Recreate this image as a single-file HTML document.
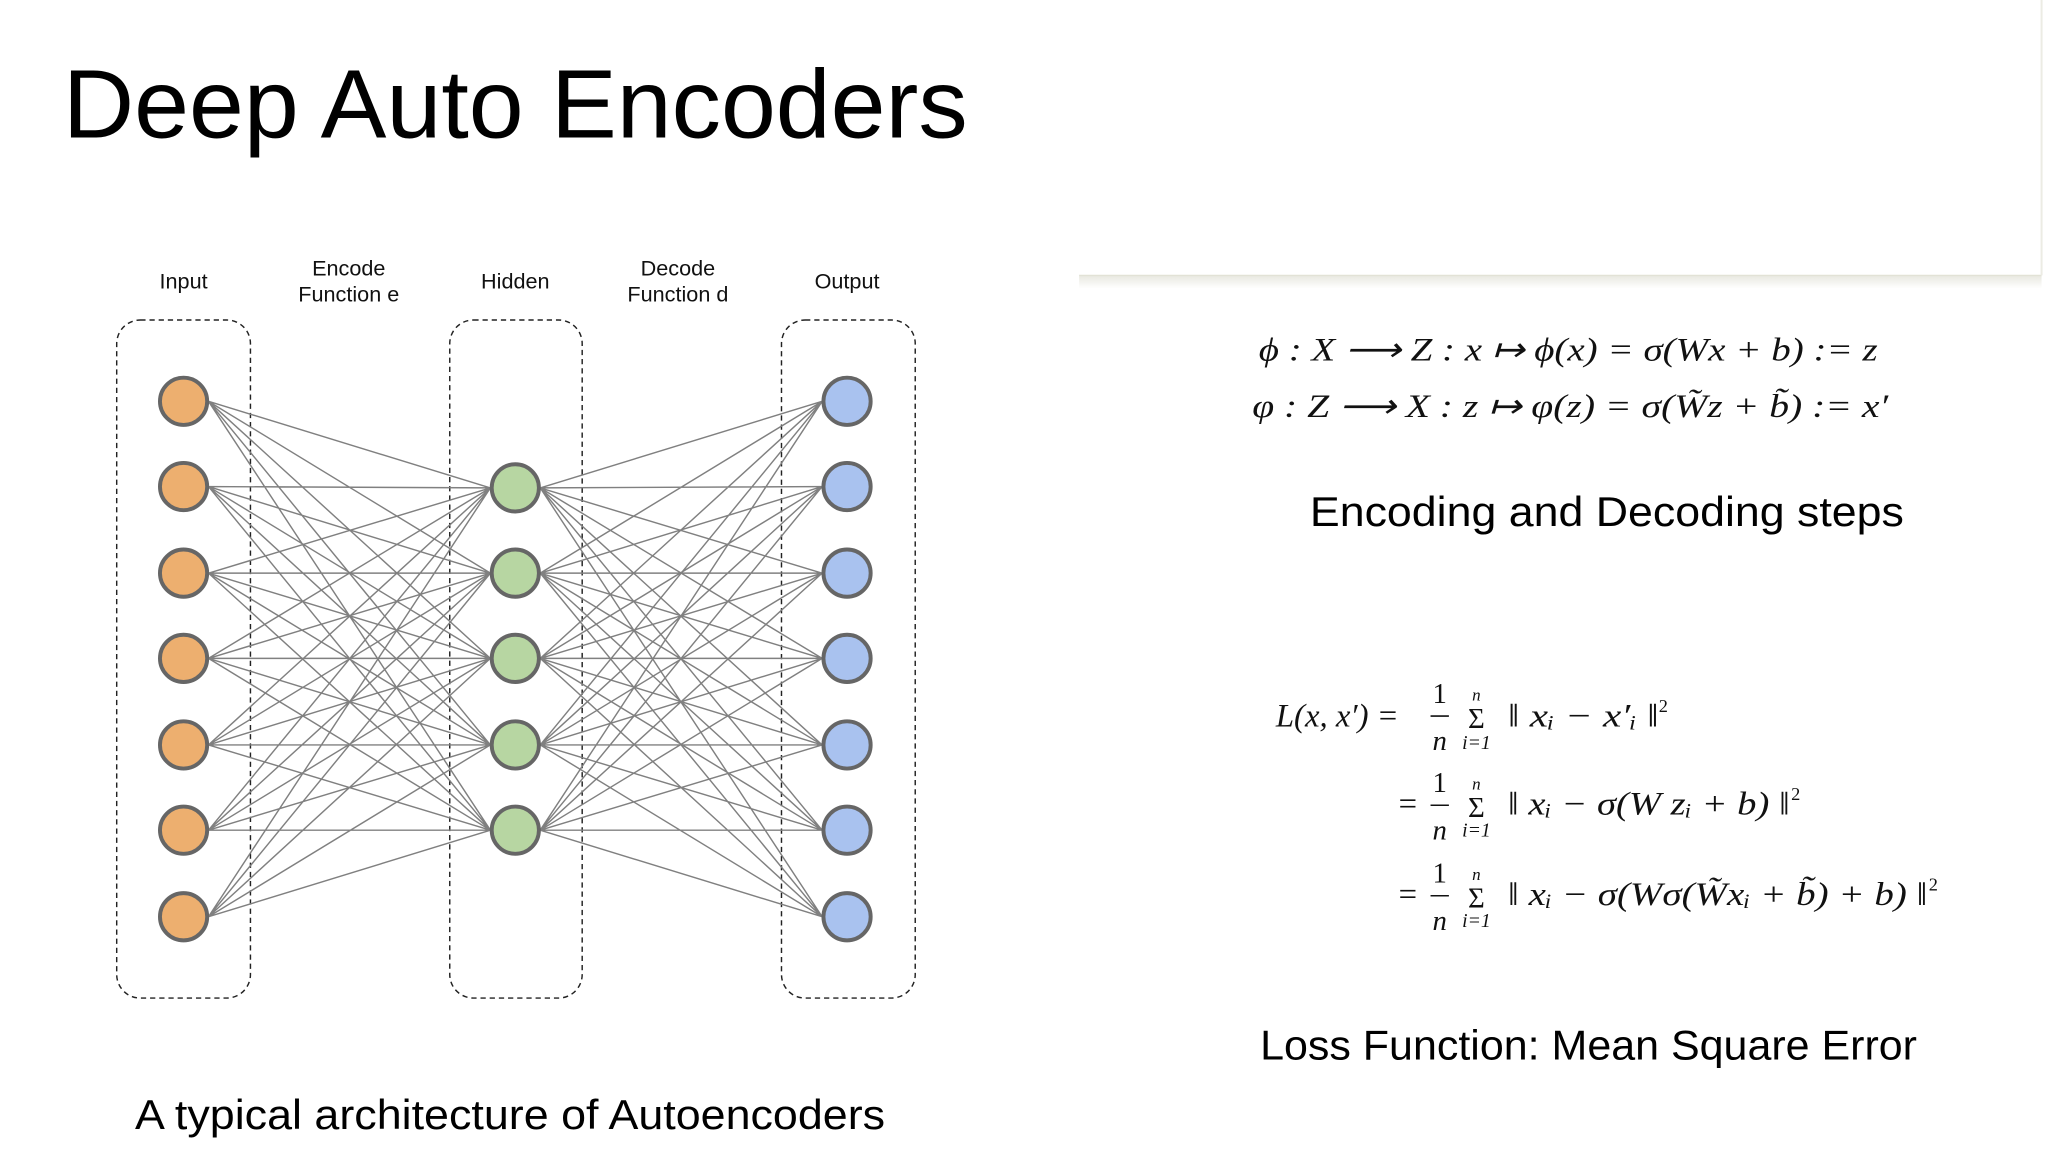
<!DOCTYPE html>
<html><head><meta charset="utf-8"><style>
html,body{margin:0;padding:0;background:#fff;}
svg{display:block;}
.t{font-family:"Liberation Sans",sans-serif;fill:#000;}
.m{font-family:"Liberation Serif",serif;font-style:italic;fill:#111;}
.r{font-style:normal;}
</style></head><body>
<svg width="2056" height="1162" viewBox="0 0 1568 886" preserveAspectRatio="none" xmlns="http://www.w3.org/2000/svg">
<defs><linearGradient id="sh" x1="0" y1="0" x2="0" y2="1"><stop offset="0" stop-color="#e8e8e0"/><stop offset="1" stop-color="#fff"/></linearGradient></defs>
<rect x="823" y="210" width="734" height="10" fill="url(#sh)"/>
<line x1="823" y1="210" x2="1557" y2="210" stroke="#e2e2d6" stroke-width="1"/>
<line x1="1557" y1="0" x2="1557" y2="210" stroke="#ececE4" stroke-width="1.5"/>
<text class="t" x="48" y="105" font-size="74" textLength="690" lengthAdjust="spacingAndGlyphs">Deep Auto Encoders</text>
<g font-family="Liberation Sans,sans-serif" font-size="16.5" text-anchor="middle" fill="#111">
<text x="140" y="220">Input</text>
<text x="266" y="210">Encode</text><text x="266" y="230">Function e</text>
<text x="393" y="220">Hidden</text>
<text x="517" y="210">Decode</text><text x="517" y="230">Function d</text>
<text x="646" y="220">Output</text>
</g>
<g fill="none" stroke="#222" stroke-width="1.1" stroke-dasharray="4,3">
<rect x="89" y="244" width="102" height="517" rx="18"/>
<rect x="343" y="244" width="101" height="517" rx="18"/>
<rect x="596" y="244" width="102" height="517" rx="18"/>
</g>
<g id="edges" stroke="#808080" stroke-width="1.1">
<path d="M159,306L374,372M159,306L374,437M159,306L374,502M159,306L374,568M159,306L374,633
M159,371L374,372M159,371L374,437M159,371L374,502M159,371L374,568M159,371L374,633
M159,437L374,372M159,437L374,437M159,437L374,502M159,437L374,568M159,437L374,633
M159,502L374,372M159,502L374,437M159,502L374,502M159,502L374,568M159,502L374,633
M159,568L374,372M159,568L374,437M159,568L374,502M159,568L374,568M159,568L374,633
M159,633L374,372M159,633L374,437M159,633L374,502M159,633L374,568M159,633L374,633
M159,699L374,372M159,699L374,437M159,699L374,502M159,699L374,568M159,699L374,633"/>
<path d="M412,372L627,306M412,372L627,371M412,372L627,437M412,372L627,502M412,372L627,568M412,372L627,633M412,372L627,699
M412,437L627,306M412,437L627,371M412,437L627,437M412,437L627,502M412,437L627,568M412,437L627,633M412,437L627,699
M412,502L627,306M412,502L627,371M412,502L627,437M412,502L627,502M412,502L627,568M412,502L627,633M412,502L627,699
M412,568L627,306M412,568L627,371M412,568L627,437M412,568L627,502M412,568L627,568M412,568L627,633M412,568L627,699
M412,633L627,306M412,633L627,371M412,633L627,437M412,633L627,502M412,633L627,568M412,633L627,633M412,633L627,699"/>
</g>
<g stroke="#666" stroke-width="3">
<g fill="#EDAF6F">
<circle cx="140" cy="306" r="18"/><circle cx="140" cy="371" r="18"/><circle cx="140" cy="437" r="18"/><circle cx="140" cy="502" r="18"/><circle cx="140" cy="568" r="18"/><circle cx="140" cy="633" r="18"/><circle cx="140" cy="699" r="18"/>
</g>
<g fill="#B7D6A2">
<circle cx="393" cy="372" r="18"/><circle cx="393" cy="437" r="18"/><circle cx="393" cy="502" r="18"/><circle cx="393" cy="568" r="18"/><circle cx="393" cy="633" r="18"/>
</g>
<g fill="#A9C2EF">
<circle cx="646" cy="306" r="18"/><circle cx="646" cy="371" r="18"/><circle cx="646" cy="437" r="18"/><circle cx="646" cy="502" r="18"/><circle cx="646" cy="568" r="18"/><circle cx="646" cy="633" r="18"/><circle cx="646" cy="699" r="18"/>
</g>
</g>
<text class="m" x="960" y="275" font-size="25" textLength="472" lengthAdjust="spacingAndGlyphs">ϕ : X ⟶ Z : x ↦ ϕ(x) = σ(Wx + b) := z</text>
<text class="m" x="955" y="318" font-size="25" textLength="485" lengthAdjust="spacingAndGlyphs">φ : Z ⟶ X : z ↦ φ(z) = σ(W̃z + b̃)  := x′</text>
<text class="t" x="999" y="401" font-size="32" textLength="453" lengthAdjust="spacingAndGlyphs">Encoding and Decoding steps</text>
<g class="m" font-size="25">
<text x="973" y="554">L(x, x′) =</text>
<text x="1065" y="621">=</text>
<text x="1065" y="690">=</text>
</g>
<g font-family="Liberation Serif,serif" font-size="22" fill="#111" text-anchor="middle">
<text x="1098" y="536">1</text><text x="1098" y="604">1</text><text x="1098" y="673">1</text>
<text x="1098" y="572" font-style="italic">n</text><text x="1098" y="640" font-style="italic">n</text><text x="1098" y="709" font-style="italic">n</text>
<text x="1126" y="555">Σ</text><text x="1126" y="623">Σ</text><text x="1126" y="692">Σ</text>
<text x="1126" y="534" font-size="13" font-style="italic">n</text><text x="1126" y="602" font-size="13" font-style="italic">n</text><text x="1126" y="671" font-size="13" font-style="italic">n</text>
<text x="1126" y="571" font-size="15" font-style="italic">i=1</text><text x="1126" y="638" font-size="15" font-style="italic">i=1</text><text x="1126" y="707" font-size="15" font-style="italic">i=1</text>
</g>
<g stroke="#111" stroke-width="1.2"><line x1="1091" y1="546" x2="1105" y2="546"/><line x1="1091" y1="614" x2="1105" y2="614"/><line x1="1091" y1="683" x2="1105" y2="683"/></g>
<g class="m" font-size="25">
<text x="1150" y="554" textLength="115" lengthAdjust="spacingAndGlyphs">‖ xᵢ − x′ᵢ ‖</text><text x="1265" y="543" font-size="14" class="r">2</text>
<text x="1150" y="621" textLength="215" lengthAdjust="spacingAndGlyphs">‖ xᵢ − σ(W zᵢ + b) ‖</text><text x="1366" y="610" font-size="14" class="r">2</text>
<text x="1150" y="690" textLength="320" lengthAdjust="spacingAndGlyphs">‖ xᵢ − σ(Wσ(W̃xᵢ + b̃) + b) ‖</text><text x="1471" y="679" font-size="14" class="r">2</text>
</g>
<text class="t" x="961" y="808" font-size="32" textLength="501" lengthAdjust="spacingAndGlyphs">Loss Function: Mean Square Error</text>
<text class="t" x="103" y="861" font-size="32" textLength="572" lengthAdjust="spacingAndGlyphs">A typical architecture of Autoencoders</text>
</svg>
</body></html>
